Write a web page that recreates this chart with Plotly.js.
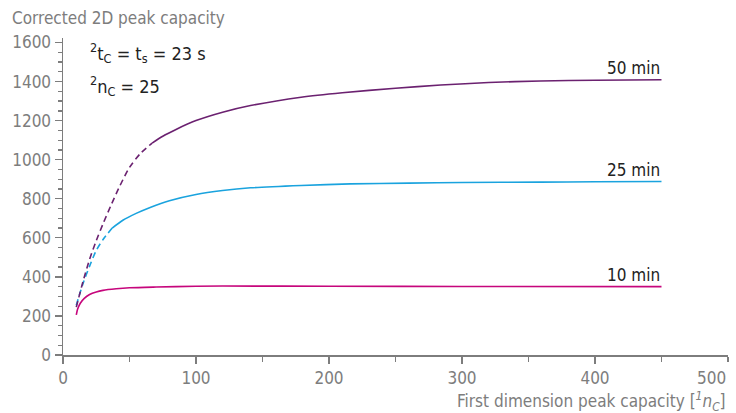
<!DOCTYPE html>
<html>
<head>
<meta charset="utf-8">
<script src="https://cdn.plot.ly/plotly-3.0.1.min.js"></script>
<style>html,body{margin:0;padding:0;background:#fff;}#chart{width:736px;height:413px;}</style>
</head>
<body>
<div id="chart"></div>
<script>
// Data
const min10X = [10, 11, 13, 16, 20, 25, 30, 40, 50, 70, 100, 120, 200, 300, 450];
const min10Y = [205, 235, 265, 290, 310, 323, 331, 339, 344, 348, 352, 353, 352, 351, 350];

const min25DashX = [10, 15, 20, 25, 30, 37];
const min25DashY = [255, 365, 455, 535, 590, 650];
const min25X = [37, 45, 55, 66, 80, 100, 120, 141, 179, 216, 260, 300, 359, 400, 450];
const min25Y = [650, 690, 725, 757, 790, 822, 842, 856, 868, 876, 880, 883, 885, 887, 888];

const min50DashX = [10, 15, 20, 25, 30, 36, 42, 50, 58, 67];
const min50DashY = [245, 375, 490, 585, 670, 765, 855, 960, 1030, 1085];
const min50X = [67, 75, 85, 100, 120, 141, 179, 210, 250, 284, 320, 359, 400, 450];
const min50Y = [1085, 1120, 1155, 1200, 1243, 1277, 1320, 1343, 1366, 1382, 1395, 1403, 1407, 1409];

const seriesLabels = ["10 min", "25 min", "50 min"];
const xTickVals = [0, 100, 200, 300, 400];
const yTickVals = [0, 200, 400, 600, 800, 1000, 1200, 1400, 1600];

const cMag = "#c6067c", cBlue = "#1aa3de", cPurple = "#6b2170";
const FONT = "'DejaVu Sans Condensed', 'Liberation Sans Narrow', sans-serif";
const gray = "#7d7d7d", dark = "#222222";
const FS = 17;

const traces = [
  {x: min10X, y: min10Y, mode: "lines", line: {color: cMag, width: 1.6, shape: "spline", smoothing: 0.8}},
  {x: min25DashX, y: min25DashY, mode: "lines", line: {color: cBlue, width: 1.6, dash: "6px,4px", shape: "spline", smoothing: 0.8}},
  {x: min25X, y: min25Y, mode: "lines", line: {color: cBlue, width: 1.6, shape: "spline", smoothing: 0.8}},
  {x: min50DashX, y: min50DashY, mode: "lines", line: {color: cPurple, width: 1.6, dash: "6px,4px", shape: "spline", smoothing: 0.8}},
  {x: min50X, y: min50Y, mode: "lines", line: {color: cPurple, width: 1.6, shape: "spline", smoothing: 0.8}}
];

const layout = {
  width: 736, height: 413,
  margin: {l: 63, r: 8, t: 38, b: 58},
  showlegend: false,
  paper_bgcolor: "#fff", plot_bgcolor: "#fff",
  font: {family: FONT, size: FS, color: gray},
  xaxis: {
    range: [0, 500], tickvals: xTickVals, ticktext: xTickVals.map(String),
    ticks: "outside", ticklen: 7, tickcolor: gray, tickwidth: 1.3,
    minor: {dtick: 50, ticks: "outside", ticklen: 5, tickcolor: gray, tickwidth: 1.3},
    showline: true, linecolor: gray, linewidth: 1.5, showgrid: false, zeroline: false,
    tickfont: {family: FONT, size: FS, color: gray}
  },
  yaxis: {
    range: [0, 1623], tickvals: yTickVals, ticktext: yTickVals.map(String),
    ticks: "outside", ticklen: 7, tickcolor: gray, tickwidth: 1.3,
    minor: {dtick: 50, ticks: "outside", ticklen: 4, tickcolor: gray, tickwidth: 1.3},
    showline: true, linecolor: gray, linewidth: 1.5, showgrid: false, zeroline: false,
    tickfont: {family: FONT, size: FS, color: gray}
  },
  annotations: [
    {xref: "paper", yref: "paper", x: -53/665, y: 1 + 20/317, xanchor: "left", yanchor: "middle",
     text: "Corrected 2D peak capacity", showarrow: false, font: {family: FONT, size: FS, color: gray}},
    {xref: "paper", yref: "paper", x: 1, y: -46/317, xanchor: "right", yanchor: "middle",
     text: "First dimension peak capacity [<sup><i>1</i></sup><i>n<sub>C</sub></i>]", showarrow: false,
     font: {family: FONT, size: FS, color: gray}},
    {x: 500, y: 0, yshift: -23, xanchor: "right", yanchor: "middle", text: "500", showarrow: false,
     font: {family: FONT, size: FS, color: gray}},
    {x: 18.5, y: 1548, xanchor: "left", yanchor: "middle", showarrow: false,
     text: "<sup>2</sup>t<sub>C</sub> = t<sub>s</sub> = 23 s", font: {family: FONT, size: 18, color: dark}},
    {x: 18.5, y: 1378, xanchor: "left", yanchor: "middle", showarrow: false,
     text: "<sup>2</sup>n<sub>C</sub> = 25", font: {family: FONT, size: 18, color: dark}},
    {x: min50X[min50X.length-1], y: min50Y[min50Y.length-1], xanchor: "right", yanchor: "bottom",
     text: seriesLabels[2], showarrow: false, font: {family: FONT, size: FS, color: dark}},
    {x: min25X[min25X.length-1], y: min25Y[min25Y.length-1], xanchor: "right", yanchor: "bottom",
     text: seriesLabels[1], showarrow: false, font: {family: FONT, size: FS, color: dark}},
    {x: min10X[min10X.length-1], y: min10Y[min10Y.length-1], xanchor: "right", yanchor: "bottom",
     text: seriesLabels[0], showarrow: false, font: {family: FONT, size: FS, color: dark}}
  ]
};

Plotly.newPlot("chart", traces, layout, {displayModeBar: false, staticPlot: true});
</script>
</body>
</html>
